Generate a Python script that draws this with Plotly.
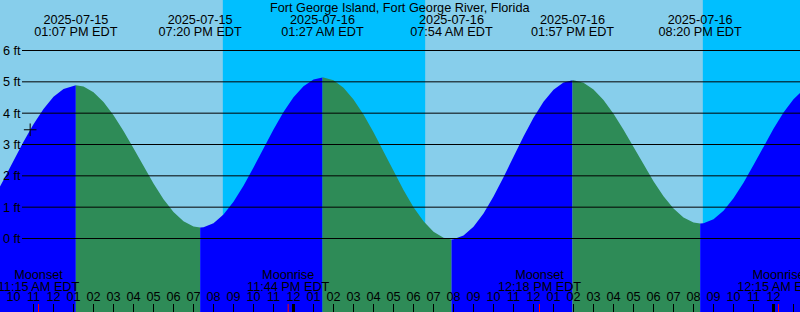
import plotly.graph_objects as go
from datetime import datetime

TITLE = "Fort George Island, Fort George River, Florida"

# ---- data (local time, EDT; heights in ft) ----
tide_times = [
    "2025-07-15 06:45", "2025-07-15 09:00", "2025-07-15 09:30", "2025-07-15 10:00",
    "2025-07-15 10:30", "2025-07-15 11:00", "2025-07-15 11:30", "2025-07-15 12:00",
    "2025-07-15 12:30", "2025-07-15 13:07", "2025-07-15 13:30", "2025-07-15 14:00",
    "2025-07-15 14:30", "2025-07-15 15:00", "2025-07-15 15:30", "2025-07-15 16:00",
    "2025-07-15 16:30", "2025-07-15 17:00", "2025-07-15 17:30", "2025-07-15 18:00",
    "2025-07-15 18:30", "2025-07-15 19:00", "2025-07-15 19:20", "2025-07-15 19:30",
    "2025-07-15 20:00", "2025-07-15 20:30", "2025-07-15 21:00", "2025-07-15 21:30",
    "2025-07-15 22:00", "2025-07-15 22:30", "2025-07-15 23:00", "2025-07-15 23:30",
    "2025-07-16 00:00", "2025-07-16 00:30", "2025-07-16 01:00", "2025-07-16 01:27",
    "2025-07-16 01:30", "2025-07-16 02:00", "2025-07-16 02:30", "2025-07-16 03:00",
    "2025-07-16 03:30", "2025-07-16 04:00", "2025-07-16 04:30", "2025-07-16 05:00",
    "2025-07-16 05:30", "2025-07-16 06:00", "2025-07-16 06:30", "2025-07-16 07:00",
    "2025-07-16 07:30", "2025-07-16 07:54", "2025-07-16 08:00", "2025-07-16 08:30",
    "2025-07-16 09:00", "2025-07-16 09:30", "2025-07-16 10:00", "2025-07-16 10:30",
    "2025-07-16 11:00", "2025-07-16 11:30", "2025-07-16 12:00", "2025-07-16 12:30",
    "2025-07-16 13:00", "2025-07-16 13:30", "2025-07-16 13:57", "2025-07-16 14:00",
    "2025-07-16 14:30", "2025-07-16 15:00", "2025-07-16 15:30", "2025-07-16 16:00",
    "2025-07-16 16:30", "2025-07-16 17:00", "2025-07-16 17:30", "2025-07-16 18:00",
    "2025-07-16 18:30", "2025-07-16 19:00", "2025-07-16 19:30", "2025-07-16 20:00",
    "2025-07-16 20:20", "2025-07-16 20:30", "2025-07-16 21:00", "2025-07-16 21:30",
    "2025-07-16 22:00", "2025-07-16 22:30", "2025-07-16 23:00", "2025-07-16 23:30",
    "2025-07-17 00:00", "2025-07-17 00:30", "2025-07-17 01:00", "2025-07-17 01:30",
    "2025-07-17 02:18",
]
tide_heights = [
    -0.10, 1.287, 1.865, 2.477,
    3.084, 3.647, 4.137, 4.521,
    4.775, 4.89, 4.848, 4.668,
    4.357, 3.936, 3.434, 2.878,
    2.305, 1.754, 1.256, 0.846,
    0.549, 0.382, 0.35, 0.359,
    0.489, 0.767, 1.175, 1.686,
    2.266, 2.878, 3.482, 4.035,
    4.506, 4.861, 5.076, 5.14,
    5.139, 5.048, 4.809, 4.438,
    3.955, 3.390, 2.775, 2.147,
    1.544, 1.000, 0.548, 0.215,
    0.020, -0.03, -0.027, 0.092,
    0.373, 0.797, 1.337, 1.954,
    2.609, 3.257, 3.855, 4.363,
    4.747, 4.981, 5.05, 5.049,
    4.967, 4.752, 4.417, 3.983,
    3.474, 2.924, 2.364, 1.828,
    1.349, 0.954, 0.670, 0.511,
    0.48, 0.489, 0.616, 0.889,
    1.287, 1.783, 2.344, 2.931,
    3.502, 4.020, 4.447, 4.754,
    4.95,
]

extreme_times = ["2025-07-15 06:45", "2025-07-15 13:07", "2025-07-15 19:20",
                 "2025-07-16 01:27", "2025-07-16 07:54", "2025-07-16 13:57",
                 "2025-07-16 20:20", "2025-07-17 02:18"]
extreme_heights = [-0.10, 4.89, 0.35, 5.14, -0.03, 5.05, 0.48, 4.95]

moon_times = ["2025-07-15 11:15", "2025-07-15 23:44", "2025-07-16 12:18", "2025-07-17 00:15"]
moon_events = ["Moonset", "Moonrise", "Moonset", "Moonrise"]

sunset_times = ["2025-07-15 20:28", "2025-07-16 20:28"]
sunrise_times = ["2025-07-16 06:35", "2025-07-17 06:35"]

midnights = ["2025-07-16 00:00", "2025-07-17 00:00"]

now_time = ["2025-07-15 10:50"]
now_height = [3.47]

depth_levels = [0, 1, 2, 3, 4, 5, 6]
depth_labels = [f"{v} ft" for v in depth_levels]

X_RANGE = ["2025-07-15 09:19:30", "2025-07-17 01:19:30"]
Y_RANGE = [-2.346, 7.612]

DAY = "#87CEEB"
NIGHT = "#00BFFF"
RISING = "#0000FF"
FALLING = "#2E8B57"
FONT = dict(family="Liberation Sans, Arial, sans-serif", size=12.7, color="#000000")
BASE = -3.0


def parse(s):
    fmt = "%Y-%m-%d %H:%M:%S" if s.count(":") == 2 else "%Y-%m-%d %H:%M"
    return datetime.strptime(s, fmt)


fig = go.Figure()

# water fill, one polygon per rising / falling run
tt = [parse(t) for t in tide_times]
for i in range(len(extreme_times) - 1):
    a, b = parse(extreme_times[i]), parse(extreme_times[i + 1])
    seg_x = [t for t in tt if a <= t <= b]
    seg_y = [h for t, h in zip(tt, tide_heights) if a <= t <= b]
    color = RISING if extreme_heights[i + 1] > extreme_heights[i] else FALLING
    fig.add_trace(go.Scatter(
        x=seg_x + [b, a], y=seg_y + [BASE, BASE],
        mode="lines", fill="toself", fillcolor=color,
        line=dict(width=0, color=color), hoverinfo="skip"))

# "now" marker
fig.add_trace(go.Scatter(
    x=now_time, y=now_height, mode="markers",
    marker=dict(symbol="cross-thin", size=9, line=dict(width=1, color="#000000")),
    hoverinfo="skip"))

# top labels at high / low tides (pixel-like overlay axes x2 / y2)
ex_dates = [parse(t).strftime("%Y-%m-%d") for t in extreme_times]
ex_clock = [parse(t).strftime("%I:%M %p EDT") for t in extreme_times]
fig.add_trace(go.Scatter(x=extreme_times, y=[20.5] * len(extreme_times),
                         xaxis="x2", yaxis="y2",
                         mode="text", text=ex_dates, textfont=FONT,
                         cliponaxis=False, hoverinfo="skip"))
fig.add_trace(go.Scatter(x=extreme_times, y=[32.5] * len(extreme_times),
                         xaxis="x2", yaxis="y2",
                         mode="text", text=ex_clock, textfont=FONT,
                         cliponaxis=False, hoverinfo="skip"))

# moon labels
moon_clock = [parse(t).strftime("%I:%M %p EDT") for t in moon_times]
fig.add_trace(go.Scatter(x=moon_times, y=[275.5] * len(moon_times),
                         xaxis="x2", yaxis="y2",
                         mode="text", text=moon_events, textfont=FONT,
                         cliponaxis=False, hoverinfo="skip"))
fig.add_trace(go.Scatter(x=moon_times, y=[287.5] * len(moon_times),
                         xaxis="x2", yaxis="y2",
                         mode="text", text=moon_clock, textfont=FONT,
                         cliponaxis=False, hoverinfo="skip"))

shapes = []
for s, r in zip(sunset_times, sunrise_times):
    shapes.append(dict(type="rect", xref="x", yref="paper", x0=s, x1=r, y0=0, y1=1,
                       fillcolor=NIGHT, line=dict(width=0), layer="below"))
for v in depth_levels:
    shapes.append(dict(type="line", xref="paper", yref="y", x0=0.0275, x1=1, y0=v, y1=v,
                       line=dict(color="#000000", width=1), layer="above"))
for m in midnights:
    shapes.append(dict(type="line", xref="x", yref="y2", x0=m, x1=m, y0=304, y1=312,
                       line=dict(color="#000000", width=3), layer="above"))
for m in moon_times:
    shapes.append(dict(type="line", xref="x", yref="y2", x0=m, x1=m, y0=304, y1=312,
                       line=dict(color="#FF0000", width=1), layer="above"))

fig.update_layout(
    width=800, height=312, autosize=False,
    margin=dict(l=0, r=0, t=0, b=0, pad=0),
    paper_bgcolor=DAY, plot_bgcolor=DAY,
    showlegend=False,
    font=FONT,
    shapes=shapes,
    annotations=[dict(text=TITLE, xref="paper", yref="y2", x=0.5, y=8,
                      xanchor="center", yanchor="middle", showarrow=False, font=FONT)],
    # hour tick marks along the bottom edge
    xaxis=dict(type="date", range=X_RANGE, dtick=3600000,
               ticks="inside", ticklen=8, tickwidth=1, tickcolor="#000000",
               showticklabels=False,
               showgrid=False, zeroline=False, showline=False,
               layer="above traces", fixedrange=True),
    # hour labels just above those marks
    xaxis2=dict(type="date", range=X_RANGE, dtick=3600000, tickformat="%I",
                overlaying="x", side="top", anchor="free", position=8 / 312,
                ticks="", tickfont=FONT, showgrid=False, zeroline=False, showline=False,
                layer="above traces", fixedrange=True),
    yaxis=dict(range=Y_RANGE, tickvals=depth_levels, ticktext=depth_labels,
               ticks="", ticklabelposition="inside", tickfont=FONT,
               showgrid=False, zeroline=False, showline=False,
               layer="above traces", fixedrange=True),
    yaxis2=dict(overlaying="y", range=[312, 0], visible=False, fixedrange=True),
)

fig.write_html("out.html")
